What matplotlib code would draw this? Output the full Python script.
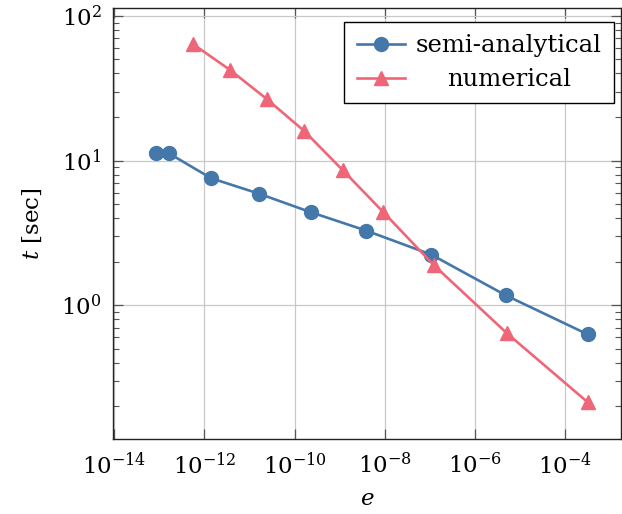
import numpy as np
import matplotlib
matplotlib.use("Agg")
from matplotlib import pyplot as plt
from matplotlib.transforms import Affine2D

plt.rcParams["font.family"] = ["DejaVu Serif"]
plt.rcParams["mathtext.fontset"] = "dejavuserif"

# timings vs. error tolerance
semi_e = [8.4e-14, 1.65e-13, 1.41e-12, 1.63e-11, 2.31e-10, 3.85e-9, 1.06e-7, 4.8e-6, 3.1e-4]
semi_t = [11.2, 11.2, 7.55, 5.9, 4.39, 3.28, 2.24, 1.17, 0.63]

num_e = [5.7e-13, 3.7e-12, 2.42e-11, 1.63e-10, 1.15e-9, 9.3e-9, 1.2e-7, 5.07e-6, 3.1e-4]
num_t = [63.6, 42.3, 26.6, 16.0, 8.61, 4.39, 1.90, 0.64, 0.214]

x_ticks = [1e-14, 1e-12, 1e-10, 1e-8, 1e-6, 1e-4]

BLUE = "#4477aa"
RED = "#ee6677"
FS = 16.5

fig = plt.figure(figsize=(6.22, 5.14), dpi=100)
ax = fig.add_axes([0.181, 0.146, 0.818, 0.838])

ax.plot(semi_e, semi_t, color=BLUE, lw=1.9, marker="o", ms=10, label="semi-analytical")
ax.plot(num_e, num_t, color=RED, lw=1.9, marker="^", ms=10, label="numerical")

ax.set_xscale("log")
ax.set_yscale("log")
ax.set_xlim(10 ** -14.035, 10 ** -2.76)
ax.set_ylim(10 ** -0.924, 10 ** 2.053)
ax.set_xticks(x_ticks)
ax.xaxis.set_minor_locator(matplotlib.ticker.NullLocator())
ax.yaxis.set_minor_locator(matplotlib.ticker.LogLocator(subs=np.arange(2, 10)))
ax.yaxis.set_minor_formatter(matplotlib.ticker.NullFormatter())

ax.grid(True, which="major", color="#c8c8c8", lw=0.9)
ax.tick_params(which="both", direction="in", top=True, right=True, labelsize=FS,
               colors="#555555", labelcolor="black")
ax.tick_params(axis="x", pad=10)
ax.tick_params(axis="y", pad=8)
ax.tick_params(which="major", length=7, width=0.9)
ax.tick_params(which="minor", length=4, width=0.8)
for s in ax.spines.values():
    s.set_color("#222222")
    s.set_linewidth(1.0)

ax.set_xlabel("$e$", fontsize=FS, labelpad=6)
ax.set_ylabel("$t$ [sec]", fontsize=FS, labelpad=12)

leg = ax.legend(loc="upper right", fontsize=17.5, frameon=True, fancybox=False,
                edgecolor="black", framealpha=1, handlelength=2.0,
                borderpad=0.5, labelspacing=0.45, handletextpad=0.45,
                borderaxespad=0, bbox_to_anchor=(0.986, 0.968))
leg.get_frame().set_linewidth(1.0)

# center the shorter legend entry under the longer one
fig.canvas.draw()
r = fig.canvas.get_renderer()
texts = leg.get_texts()
w0 = texts[0].get_window_extent(r).width
w1 = texts[1].get_window_extent(r).width
texts[1].set_transform(texts[1].get_transform() + Affine2D().translate((w0 - w1) / 2, 0))

fig.savefig("out.png", dpi=100)
